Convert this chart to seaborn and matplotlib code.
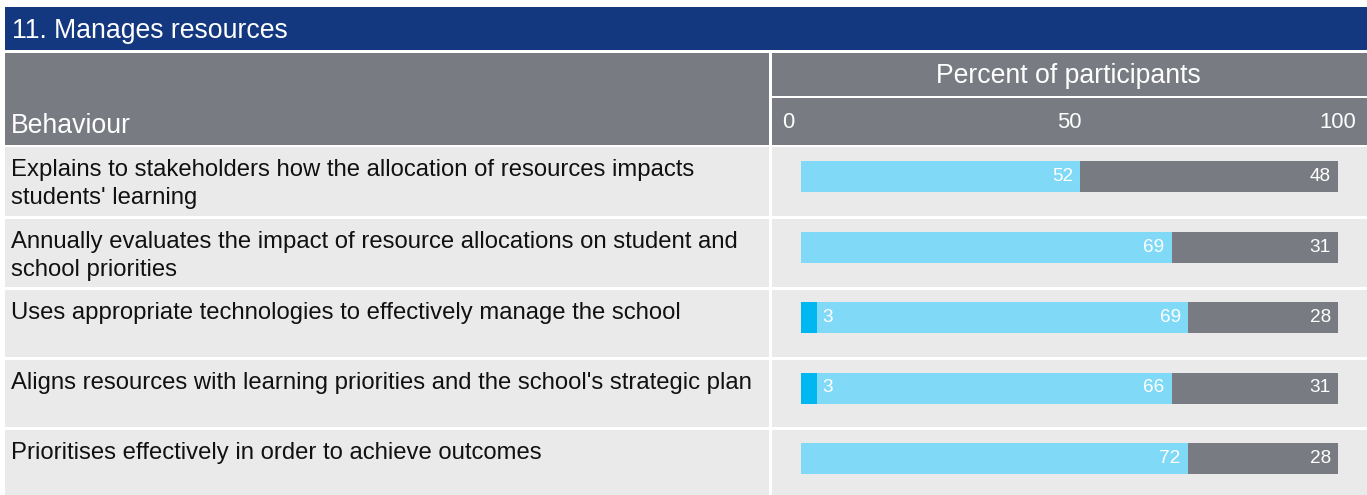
import matplotlib
matplotlib.use("Agg")
import matplotlib.pyplot as plt
import matplotlib.transforms as mtransforms
from matplotlib.patches import Rectangle
import numpy as np
import pandas as pd
import seaborn as sns

# ---------------- data ----------------
title = "11. Manages resources"
behaviours = [
    "Explains to stakeholders how the allocation of resources impacts\nstudents' learning",
    "Annually evaluates the impact of resource allocations on student and\nschool priorities",
    "Uses appropriate technologies to effectively manage the school",
    "Aligns resources with learning priorities and the school's strategic plan",
    "Prioritises effectively in order to achieve outcomes",
]
seg_dark_blue = [0, 0, 3, 3, 0]
seg_light_blue = [52, 69, 69, 66, 72]
seg_grey = [48, 31, 28, 31, 28]
tick_values = [0, 50, 100]

# ---------------- style ----------------
sns.set_theme(style="white")
plt.rcParams['font.family'] = ['Liberation Sans', 'DejaVu Sans']

C_TITLE = "#14387f"
C_HEAD = "#797b83"
C_ROW = "#eaeaea"
C_LB = "#80daf7"
C_DB = "#00b7f1"
C_GREY = "#797b83"

W, H = 1367, 495
fig = plt.figure(figsize=(W / 100, H / 100), dpi=100)

# background "table" drawn in pixel coordinates
bg = fig.add_axes([0, 0, 1, 1])
bg.set_xlim(0, W)
bg.set_ylim(H, 0)
bg.axis("off")

def rect(x0, y0, x1, y1, c):
    bg.add_patch(Rectangle((x0, y0), x1 - x0, y1 - y0, color=c, lw=0))

rect(5, 7, W, 50, C_TITLE)
rect(5, 53, 769, 145, C_HEAD)
rect(772, 53, W, 95.5, C_HEAD)
rect(772, 98, W, 145, C_HEAD)
row_tops = [147, 219, 290, 359.5, 429.5]
row_bots = [216, 287, 357, 427, 495]
for t, b in zip(row_tops, row_bots):
    rect(5, t, 769, b, C_ROW)
    rect(772, t, W, b, C_ROW)

bg.text(12, 38, title, color="white", fontsize=19.2, va="baseline", ha="left")
bg.text(11, 133, "Behaviour", color="white", fontsize=19.2, va="baseline", ha="left")
bg.text(1068, 83, "Percent of participants", color="white", fontsize=19.2,
        va="baseline", ha="center")
for t, lab in zip(row_tops, behaviours):
    for k, line in enumerate(lab.split("\n")):
        bg.text(11, t + 29 + 28 * k, line, color="#111111", fontsize=17.2,
                va="baseline", ha="left")

# ---------------- bars ----------------
df = pd.DataFrame({
    "behaviour": behaviours,
    "dark": seg_dark_blue,
    "light": seg_light_blue,
    "grey": seg_grey,
})
df["cum_light"] = df["dark"] + df["light"]
df["cum_grey"] = df["cum_light"] + df["grey"]

x0_px, x1_px = 801, 1338
y_top_px, y_bot_px = 141.25, 493.75
ax = fig.add_axes([x0_px / W, (H - y_bot_px) / H, (x1_px - x0_px) / W,
                   (y_bot_px - y_top_px) / H])
ax.patch.set_alpha(0)

bw = 31 / 70.5
sns.barplot(data=df, x="cum_grey", y="behaviour", orient="h", color=C_GREY,
            saturation=1, width=bw, ax=ax, errorbar=None, linewidth=0)
sns.barplot(data=df, x="cum_light", y="behaviour", orient="h", color=C_LB,
            saturation=1, width=bw, ax=ax, errorbar=None, linewidth=0)
sns.barplot(data=df, x="dark", y="behaviour", orient="h", color=C_DB,
            saturation=1, width=bw, ax=ax, errorbar=None, linewidth=0)

ax.set_xlim(0, 100)
ax.set_ylim(len(behaviours) - 0.5, -0.5)
ax.set_xlabel("")
ax.set_ylabel("")
ax.set_yticks([])
for s in ax.spines.values():
    s.set_visible(False)

ax.set_xticks(tick_values)
ax.set_xticklabels([str(v) for v in tick_values])
ax.xaxis.set_ticks_position("top")
ax.tick_params(axis="x", length=0, pad=6, labelsize=15.8, labelcolor="white")
ax.get_xticklabels()[0].set_transform(
    ax.get_xticklabels()[0].get_transform()
    + mtransforms.ScaledTranslation(-13 / 100, 0, fig.dpi_scale_trans))

right_pad = mtransforms.offset_copy(ax.transData, fig=fig, x=-7, units="dots")
left_pad = mtransforms.offset_copy(ax.transData, fig=fig, x=5, units="dots")
for i, r in df.iterrows():
    if r["dark"] > 0:
        ax.text(r["dark"], i, str(r["dark"]), transform=left_pad, ha="left",
                va="center", color="white", fontsize=13.7)
    if r["light"] > 0:
        ax.text(r["cum_light"], i, str(r["light"]), transform=right_pad,
                ha="right", va="center", color="white", fontsize=13.7)
    if r["grey"] > 0:
        ax.text(r["cum_grey"], i, str(r["grey"]), transform=right_pad,
                ha="right", va="center", color="white", fontsize=13.7)

fig.savefig("out.png", dpi=100)
